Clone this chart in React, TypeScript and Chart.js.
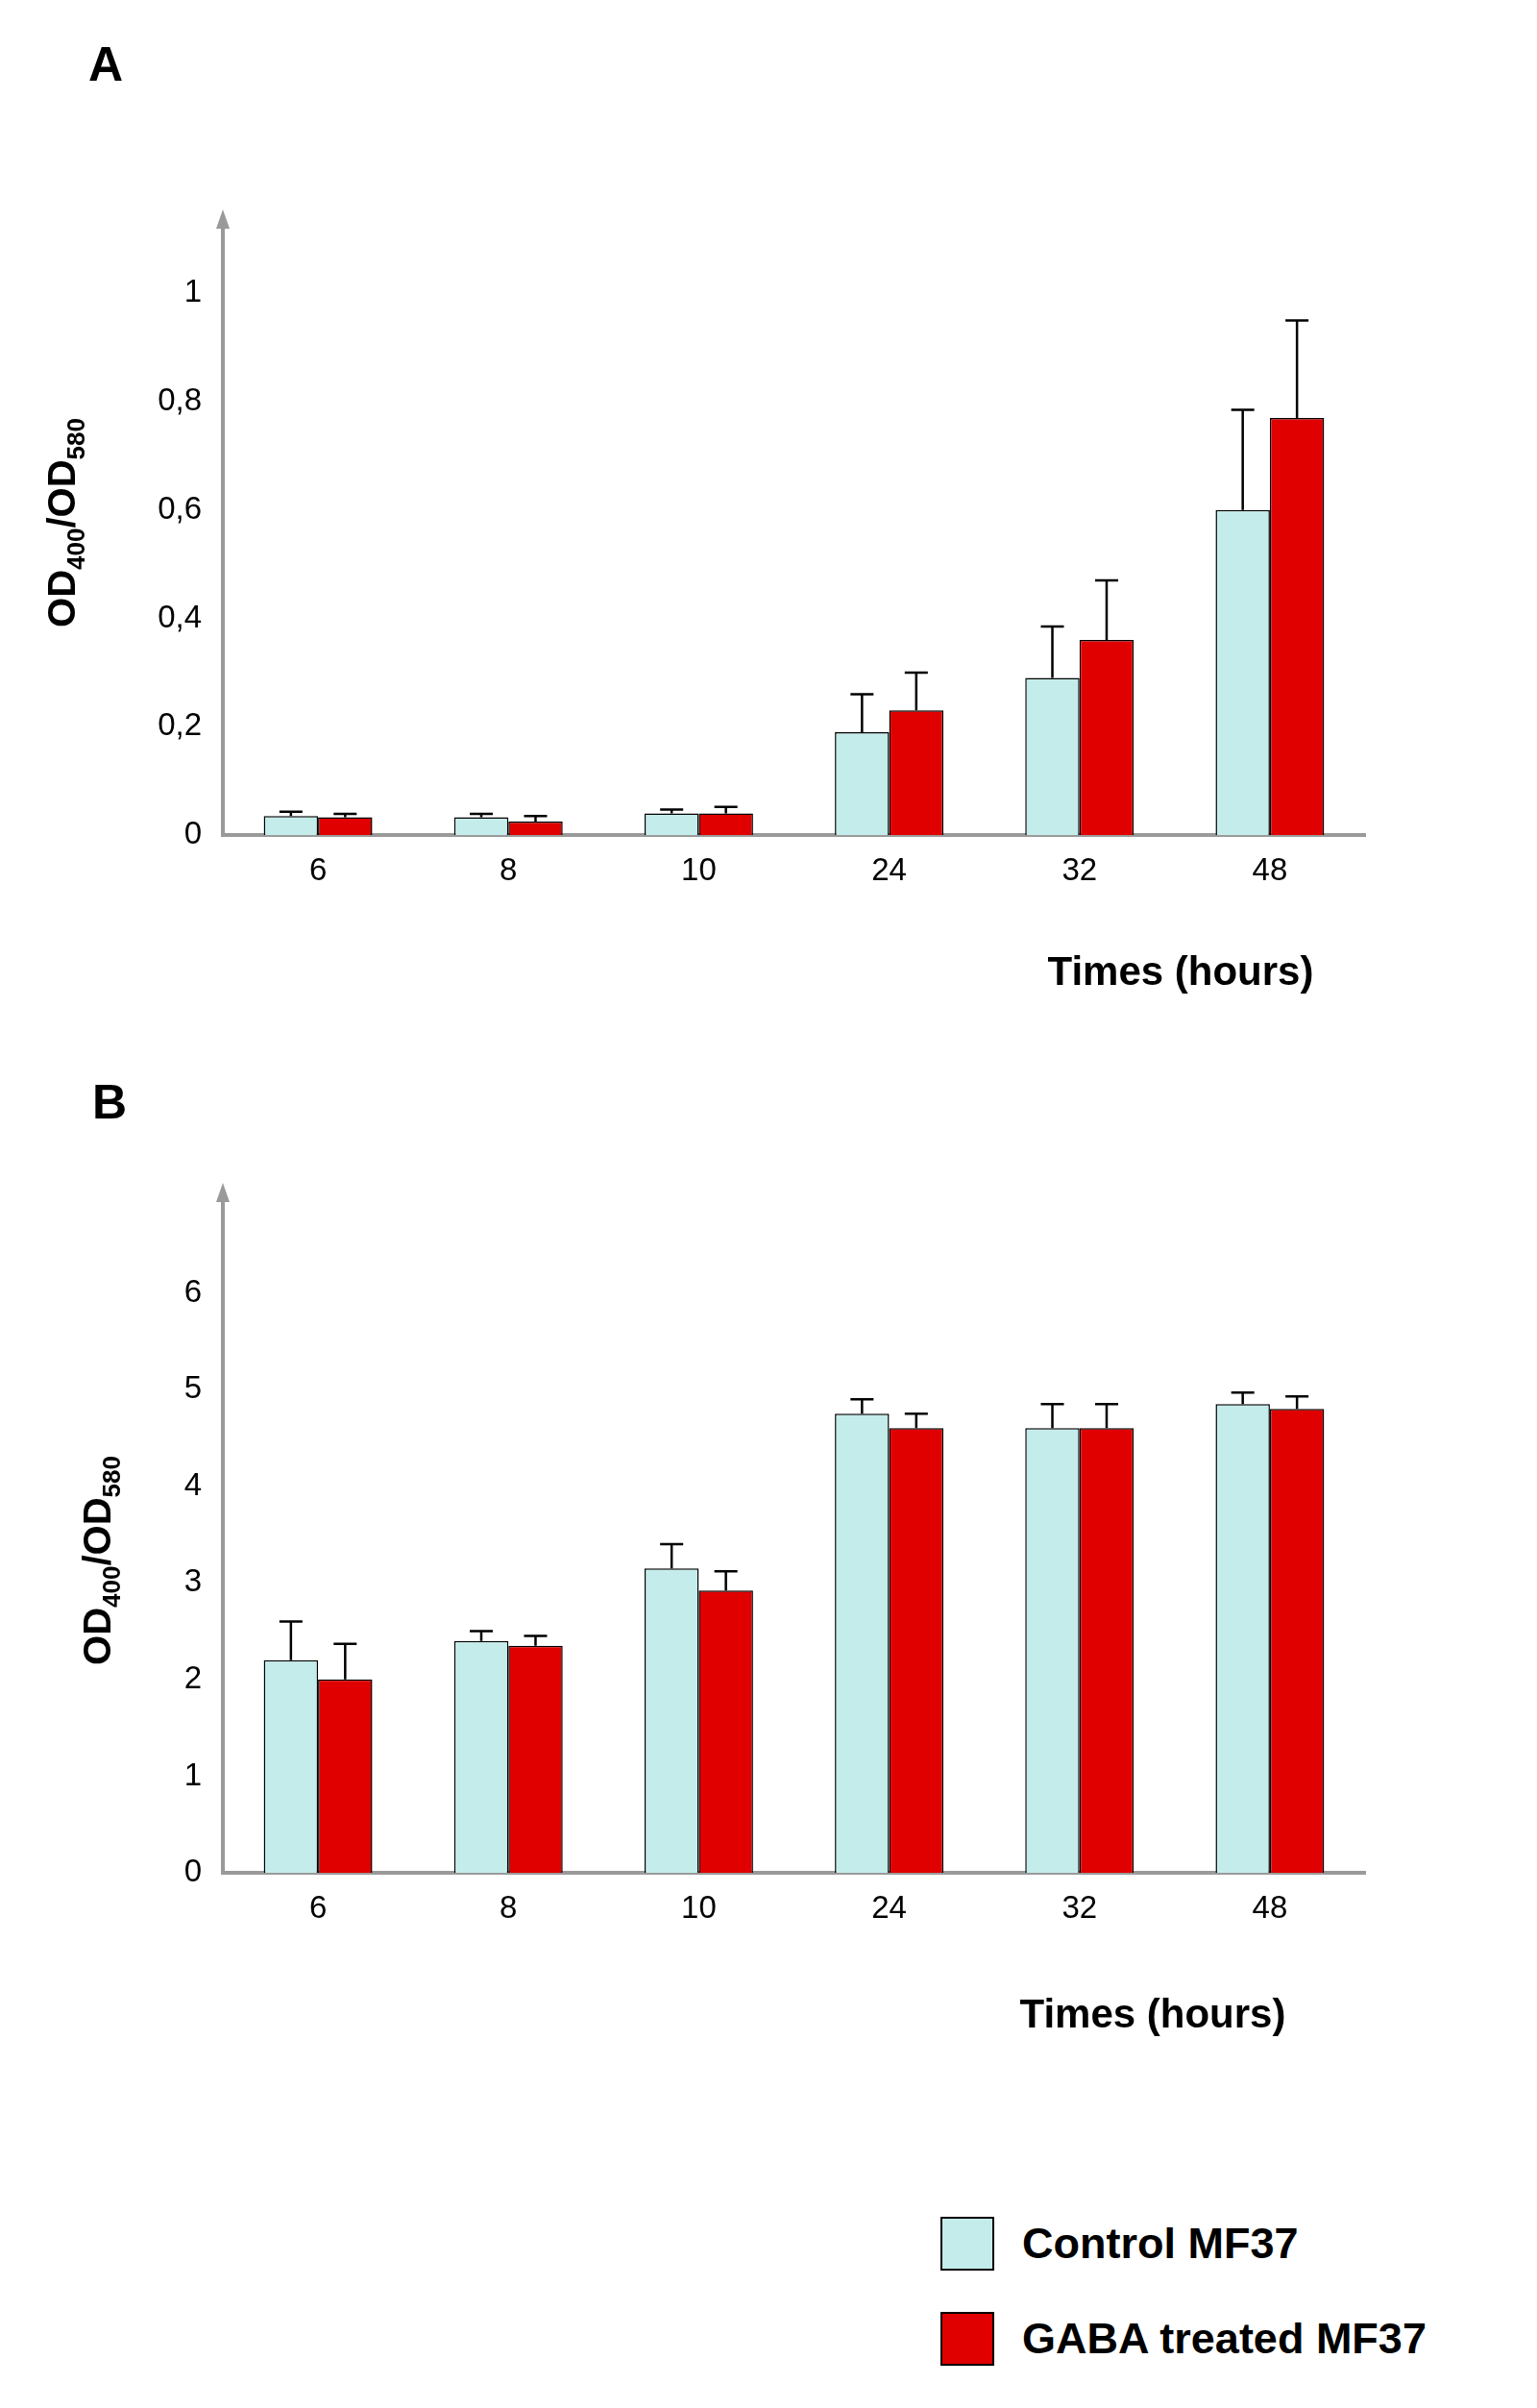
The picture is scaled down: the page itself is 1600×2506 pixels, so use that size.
import React, { useEffect, useRef } from "react";
import { Chart, registerables } from "chart.js";
Chart.register(...registerables);

const categories = ["6", "8", "10", "24", "32", "48"];
const aControl = [0.035, 0.033, 0.04, 0.19, 0.29, 0.6];
const aControlErr = [0.008, 0.006, 0.007, 0.07, 0.095, 0.185];
const aGaba = [0.033, 0.025, 0.04, 0.23, 0.36, 0.77];
const aGabaErr = [0.006, 0.01, 0.012, 0.07, 0.11, 0.18];
const bControl = [2.2, 2.4, 3.15, 4.75, 4.6, 4.85];
const bControlErr = [0.4, 0.1, 0.25, 0.15, 0.25, 0.12];
const bGaba = [2.0, 2.35, 2.92, 4.6, 4.6, 4.8];
const bGabaErr = [0.37, 0.1, 0.2, 0.15, 0.25, 0.13];

const CTRL = "#c4ecea";
const RED = "#e00000";
const GRAY = "#9a9a9a";
const FONT = "Liberation Sans, Arial, sans-serif";

function makeChart(canvas: HTMLCanvasElement, o: any) {
  const errs = [o.e1, o.e2];
  const plugin = {
    id: "extras",
    afterDatasetsDraw(chart: any) {
      const ctx = chart.ctx;
      const y = chart.scales.y;
      ctx.save();
      ctx.strokeStyle = "#000";
      ctx.lineWidth = 2.5;
      [0, 1].forEach((di) => {
        const meta = chart.getDatasetMeta(di);
        meta.data.forEach((bar: any, i: number) => {
          const v = chart.data.datasets[di].data[i];
          const top = y.getPixelForValue(v + errs[di][i]);
          ctx.beginPath();
          ctx.moveTo(bar.x, bar.y);
          ctx.lineTo(bar.x, top);
          ctx.moveTo(bar.x - 12, top);
          ctx.lineTo(bar.x + 12, top);
          ctx.stroke();
        });
      });
      const a = chart.chartArea;
      // arrow
      ctx.fillStyle = GRAY;
      ctx.beginPath();
      ctx.moveTo(a.left, a.top - 14);
      ctx.lineTo(a.left - 7, a.top + 6);
      ctx.lineTo(a.left + 7, a.top + 6);
      ctx.closePath();
      ctx.fill();
      // x title
      ctx.fillStyle = "#000";
      ctx.font = `bold 42px ${FONT}`;
      ctx.textAlign = "center";
      ctx.textBaseline = "middle";
      ctx.fillText("Times (hours)", o.xtX, o.xtY);
      // y title
      ctx.translate(o.ytX, o.ytY);
      ctx.rotate(-Math.PI / 2);
      const parts: [string, boolean][] = [["OD", false], ["400", true], ["/OD", false], ["580", true]];
      let w = 0;
      parts.forEach(([t, s]) => {
        ctx.font = `bold ${s ? 26 : 40}px ${FONT}`;
        w += ctx.measureText(t).width;
      });
      let x = -w / 2;
      ctx.textAlign = "left";
      parts.forEach(([t, s]) => {
        ctx.font = `bold ${s ? 26 : 40}px ${FONT}`;
        ctx.fillText(t, x, s ? 14 : 0);
        x += ctx.measureText(t).width;
      });
      ctx.restore();
    },
  };
  return new Chart(canvas, {
    type: "bar",
    data: {
      labels: categories,
      datasets: [
        { data: o.d1, backgroundColor: CTRL, borderColor: "#000", borderWidth: 1.5, borderSkipped: "bottom" },
        { data: o.d2, backgroundColor: RED, borderColor: "#000", borderWidth: 1.5, borderSkipped: "bottom" },
      ],
    },
    options: {
      animation: false,
      responsive: false,
      devicePixelRatio: 1,
      layout: { padding: { left: 0, right: 179, top: o.top, bottom: o.bottom } },
      plugins: { legend: { display: false }, tooltip: { enabled: false } },
      datasets: { bar: { categoryPercentage: 0.57, barPercentage: 1 } },
      scales: {
        x: {
          offset: true,
          grid: { display: false, drawTicks: false },
          border: { color: GRAY, width: 4 },
          ticks: { color: "#000", font: { family: FONT, size: 33 }, padding: 18 },
          afterFit: (s: any) => { s.height = 60; },
        },
        y: {
          min: 0,
          max: o.max,
          grid: { display: false, drawOnChartArea: false, drawTicks: true, tickLength: 10, tickColor: GRAY, tickWidth: 3 },
          border: { color: GRAY, width: 4 },
          ticks: {
            stepSize: o.step,
            color: "#000",
            font: { family: FONT, size: 33 },
            padding: 12,
            callback: (v: any) => String(Math.round(v * 10) / 10).replace(".", ","),
          },
          afterBuildTicks: (s: any) => { s.ticks = s.ticks.filter((t: any) => t.value <= o.lim + 1e-9); },
          afterFit: (s: any) => { s.width = 232; },
        },
      },
    },
    plugins: [plugin],
  });
}

export default function App() {
  const r1 = useRef<HTMLCanvasElement>(null);
  const r2 = useRef<HTMLCanvasElement>(null);
  useEffect(() => {
    document.body.style.margin = "0";
    const c1 = makeChart(r1.current!, {
      d1: aControl, d2: aGaba, e1: aControlErr, e2: aGabaErr,
      max: 1.13, step: 0.2, lim: 1, top: 232, bottom: 171,
      xtX: 1229, xtY: 1013, ytX: 67, ytY: 544,
    });
    const c2 = makeChart(r2.current!, {
      d1: bControl, d2: bGaba, e1: bControlErr, e2: bGabaErr,
      max: 7, step: 1, lim: 6, top: 145, bottom: 191,
      xtX: 1200, xtY: 998, ytX: 104, ytY: 524,
    });
    return () => { c1.destroy(); c2.destroy(); };
  }, []);
  const letter: React.CSSProperties = { position: "absolute", font: `bold 50px ${FONT}`, color: "#000" };
  const box = (c: string, top: number): React.CSSProperties => ({
    position: "absolute", left: 979, top, width: 56, height: 56, background: c, border: "2px solid #000", boxSizing: "border-box",
  });
  const txt = (top: number): React.CSSProperties => ({
    position: "absolute", left: 1064, top, font: `bold 45px ${FONT}`, color: "#000", lineHeight: "56px", whiteSpace: "nowrap",
  });
  return (
    <div style={{ position: "relative", width: 1600, height: 2506, background: "#fff" }}>
      <canvas ref={r1} width={1600} height={1100} style={{ position: "absolute", left: 0, top: 0 }} />
      <canvas ref={r2} width={1600} height={1100} style={{ position: "absolute", left: 0, top: 1100 }} />
      <div style={{ ...letter, left: 92, top: 38 }}>A</div>
      <div style={{ ...letter, left: 96, top: 1118 }}>B</div>
      <div style={box(CTRL, 2307)} />
      <div style={txt(2307)}>Control MF37</div>
      <div style={box(RED, 2406)} />
      <div style={txt(2406)}>GABA treated MF37</div>
    </div>
  );
}
